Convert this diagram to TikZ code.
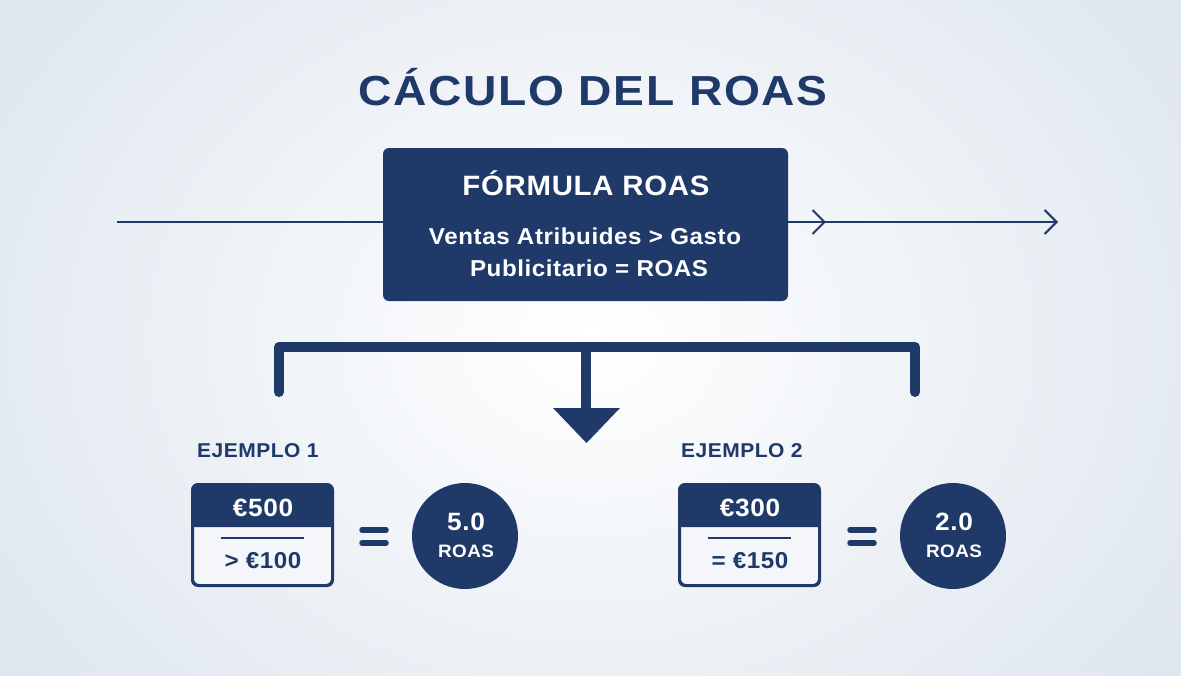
\documentclass[tikz,border=0pt]{standalone}
\usepackage{fontspec}
\setmainfont{Liberation Sans}[FakeStretch=1.05, LetterSpace=2.5]
\newfontfamily\titlefont{Liberation Sans}[FakeStretch=1.1, LetterSpace=4]
\usetikzlibrary{arrows.meta,decorations.markings}
\definecolor{navy}{HTML}{1F3A68}
\definecolor{bgedge}{HTML}{DDE5EE}
\definecolor{boxbg}{HTML}{F4F6F9}
\tikzset{
  title/.style={font=\titlefont\fontsize{42}{48}\selectfont\bfseries, text=navy},
  formbox/.style={fill=navy, rounded corners=6, minimum width=405, minimum height=153, inner sep=0},
  exlabel/.style={font=\fontsize{20}{24}\selectfont\bfseries, text=navy, anchor=west, inner sep=0},
  valbox/.style={draw=navy, line width=2, fill=boxbg, rounded corners=6, minimum width=139, minimum height=100, inner sep=0},
  numtxt/.style={font=\fontsize{25}{26}\selectfont\bfseries, inner sep=0},
  subtxt/.style={font=\fontsize{23}{26}\selectfont\bfseries, inner sep=0},
  roascirc/.style={circle, fill=navy, minimum size=106, inner sep=0},
  thinline/.style={navy, line width=1.8},
  bracket/.style={navy, line width=10, line cap=round, line join=round},
  eqbar/.style={navy, line width=5.5, line cap=round},
}
\begin{document}
\begin{tikzpicture}[x=1pt,y=-1pt]
\useasboundingbox (0,0) rectangle (1181,675);
\fill[bgedge] (0,0) rectangle (1181,675);
\shade[inner color=white, outer color=bgedge] (-150,-250) rectangle (1331,925);

\node[title] (t) at (593,87) {CÁCULO DEL ROAS};

\node[formbox] (f) at (585.5,224.5) {};
\node[font=\fontsize{28}{30}\selectfont\bfseries, text=white] (fh) at (586,183) {FÓRMULA ROAS};
\node[font=\fontsize{23}{32}\selectfont\bfseries, text=white, align=center] (ft) at (585,252) {Ventas Atribuides > Gasto\\\hspace*{8pt}Publicitario = ROAS};

\coordinate (lin) at (117,222);
\coordinate (lout) at (1058,222);
\draw[thinline] (lin) -- (f.west |- lin);
\draw[thinline, -{Straight Barb[length=12,width=24,line width=2]},
  postaction={decorate}, decoration={markings, mark=at position 0.14 with {\arrow[navy]{Straight Barb[length=12,width=24,line width=2]}}}]
  (f.east |- lout) -- (lout);

% bracket
\coordinate (bl) at (279,392);
\coordinate (br) at (915,392);
\coordinate (bc) at (586,347);
\coordinate (stem) at (586,410);
\draw[bracket] (bl) -- (279,347) -- (915,347) -- (br);
\draw[navy, line width=10] (bc) -- (stem);
\fill[navy] (553,408) -- (620,408) -- (586.5,443) -- cycle;

% example 1
\node[exlabel] (e1) at (197,451) {EJEMPLO 1};
\node[valbox] (v1) at (262.5,535) {};
\fill[navy] (v1.west |- 0,527) [rounded corners=6] -- (v1.north west) -- (v1.north east) [sharp corners] -- (v1.east |- 0,527) -- cycle;
\draw[navy, line width=2, rounded corners=6] (v1.south west) rectangle (v1.north east);
\node[numtxt, text=white] (n1) at (263,508) {€500};
\draw[navy, line width=1.8] (221,538) -- (304,538);
\node[subtxt, text=navy] (d1) at (263,561) {> €100};
\draw[eqbar] (362,530) -- (386,530);
\draw[eqbar] (362,543) -- (386,543);
\node[roascirc] (c1) at (465,536) {};
\node[font=\fontsize{25}{28}\selectfont\bfseries, text=white] (r1) at (466,522) {5.0};
\node[font=\fontsize{18}{18}\selectfont\bfseries, text=white] (s1) at (466,551) {ROAS};

% example 2
\node[exlabel] (e2) at (681,451) {EJEMPLO 2};
\node[valbox] (v2) at (749.5,535) {};
\fill[navy] (v2.west |- 0,527) [rounded corners=6] -- (v2.north west) -- (v2.north east) [sharp corners] -- (v2.east |- 0,527) -- cycle;
\draw[navy, line width=2, rounded corners=6] (v2.south west) rectangle (v2.north east);
\node[numtxt, text=white] (n2) at (750,508) {€300};
\draw[navy, line width=1.8] (708,538) -- (791,538);
\node[subtxt, text=navy] (d2) at (750,561) {= €150};
\draw[eqbar] (850,530) -- (874,530);
\draw[eqbar] (850,543) -- (874,543);
\node[roascirc] (c2) at (953,536) {};
\node[font=\fontsize{25}{28}\selectfont\bfseries, text=white] (r2) at (954,522) {2.0};
\node[font=\fontsize{18}{18}\selectfont\bfseries, text=white] (s2) at (954,551) {ROAS};
\end{tikzpicture}
\end{document}
